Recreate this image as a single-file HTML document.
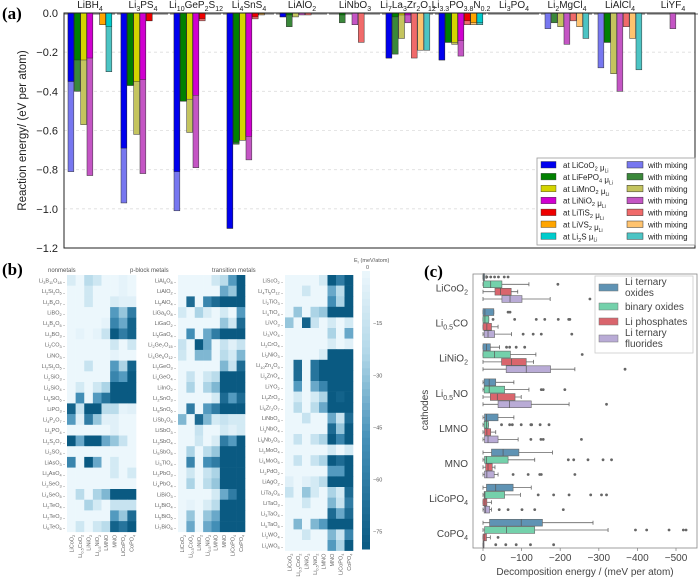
<!DOCTYPE html>
<html><head><meta charset="utf-8">
<style>
html,body{margin:0;padding:0;background:#fff;}
svg{display:block;font-family:"Liberation Sans",sans-serif;}
</style></head>
<body>
<svg id="fig" width="700" height="585" viewBox="0 0 700 585" xmlns="http://www.w3.org/2000/svg">
<text x="2" y="19" font-family="Liberation Serif" font-weight="bold" font-size="17">(a)</text>
<text x="2" y="275" font-family="Liberation Serif" font-weight="bold" font-size="17">(b)</text>
<text x="424" y="277" font-family="Liberation Serif" font-weight="bold" font-size="17">(c)</text>
<g id="pa"></g>
<g id="pb"></g>
<g id="pc"></g>
</svg>
<script>
// ---------- Panel (a) data ----------
const materials = ["LiBH4","Li3PS4","Li10GeP2S12","Li4SnS4","LiAlO2","LiNbO3","Li7La3Zr2O12","Li3.3PO3.8N0.2","Li3PO4","Li2MgCl4","LiAlCl4","LiYF4"];
const potentials = ["LiCoO2","LiFePO4","LiMnO2","LiNiO2","LiTiS2","LiVS2","Li2S"];
const solidValues = [
 [-0.35,-0.24,-0.24,-0.23,0,-0.06,-0.07],
 [-0.69,-0.37,-0.35,-0.34,-0.04,0,0],
 [-0.81,-0.45,-0.44,-0.42,-0.03,0,0],
 [-1.10,-0.66,-0.65,-0.63,-0.02,-0.005,0],
 [-0.02,-0.01,0,0,0,0,0],
 [0,-0.01,0,0,0,0,0],
 [-0.23,-0.02,-0.01,-0.01,0,0,0],
 [-0.24,-0.15,-0.15,-0.14,-0.04,-0.05,-0.05],
 [0,0,0,0,0,0,0],
 [0,0,0,0,0,0,0],
 [0,-0.15,0,0,0,0,0],
 [0,0,0,0,0,0,0]];
const mixingValues = [
 [-0.81,-0.40,-0.57,-0.83,0,-0.06,-0.30],
 [-0.97,-0.37,-0.62,-0.82,-0.04,0,0],
 [-1.01,-0.45,-0.61,-0.79,-0.04,0,0],
 [-1.10,-0.67,-0.65,-0.75,-0.03,-0.01,0],
 [-0.02,-0.07,-0.02,-0.01,-0.01,0,0],
 [0,-0.05,0,-0.06,-0.15,0,0],
 [-0.23,-0.21,-0.13,-0.05,-0.23,-0.19,-0.19],
 [-0.24,-0.15,-0.16,-0.22,-0.06,-0.06,-0.06],
 [0,0,0,0,0,0,0],
 [-0.08,-0.05,-0.07,-0.16,-0.04,-0.07,-0.13],
 [-0.28,-0.15,-0.31,-0.40,-0.07,-0.13,-0.29],
 [0,0,0,-0.08,0,0,0]];
const yTicksA = [0,-0.2,-0.4,-0.6,-0.8,-1.0,-1.2];

// ---------- Panel (b) data ----------
const colLabels = ["LiCoO2","Li0.5CoO2","LiNiO2","Li0.5NiO2","LMNO","MNO","LiCoPO4","CoPO4"];
const rowsNonmetals = ["Li3B11O18","Li2Si2O5","Li2B4O7","LiBO2","Li3B3O5","Li3BO3","Li2CO3","LiNO3","Li2Si2O5","Li2SiO3","Li4SiO4","Li8SiO6","LiPO3","Li4P2O7","Li3PO4","Li2S2O7","Li2SO4","LiAsO3","Li3AsO4","Li2SeO3","Li4SeO5","Li2TeO4","Li2TeO3","Li6TeO6"];
const valsNonmetals = [
 [8,0,20,12,0,0,3,0],[0,0,12,0,0,0,3,0],[0,0,12,0,0,8,5,5],[0,0,0,0,0,45,30,60],
 [0,0,0,0,3,55,40,75],[0,3,0,3,15,80,60,75],[0,0,0,0,0,12,0,12],[0,0,0,0,0,3,0,0],
 [0,0,15,0,0,45,25,75],[0,0,0,0,0,55,45,80],[0,10,0,12,25,80,80,80],[0,50,0,45,65,80,80,80],
 [75,15,80,80,20,20,3,5],[45,5,60,30,5,5,0,0],[0,0,0,0,0,5,0,0],[80,40,80,80,40,30,15,0],
 [0,0,0,0,0,0,0,0],[55,0,80,40,0,10,0,0],[0,0,0,0,0,10,0,10],[0,0,0,0,0,0,0,0],
 [0,20,0,25,35,80,80,80],[0,0,25,10,0,15,15,15],[0,0,0,0,0,45,30,70],[0,12,0,12,20,75,65,80]];
const rowsPblock = ["LiAl5O8","LiAlO2","Li5AlO4","LiGa5O8","LiGaO2","Li5GaO4","Li2Ge7O15","Li4Ge5O12","Li2GeO3","Li4GeO4","LiInO2","Li2SnO3","Li8SnO6","LiSb3O8","LiSbO3","Li3SbO4","Li5SbO5","Li3TlO4","Li2PbO3","Li4PbO4","LiBiO3","Li3BiO4","Li5BiO5","Li7BiO6"];
const valsPblock = [
 [0,0,0,0,12,20,45,80],[0,0,0,0,0,40,30,80],[0,70,0,55,70,80,80,80],[10,0,25,8,0,10,0,45],
 [0,0,0,0,0,30,12,70],[0,50,0,40,60,80,80,80],[15,0,80,40,0,15,5,15],[12,0,35,35,0,20,10,35],
 [0,0,0,0,0,35,15,70],[0,15,0,12,20,80,80,80],[0,25,0,25,35,80,80,80],[0,0,0,0,10,70,45,70],
 [0,60,0,45,60,80,80,80],[35,0,70,35,10,15,10,10],[0,0,15,0,0,10,5,10],[0,0,12,0,8,60,45,80],
 [0,25,0,20,30,80,80,80],[0,55,0,50,60,80,80,80],[0,12,0,15,25,80,80,80],[0,25,0,20,30,80,80,80],
 [0,0,0,0,10,40,60,80],[0,3,0,8,20,80,80,80],[0,30,0,30,40,80,80,80],[0,40,0,40,50,80,80,80]];
const rowsTransition = ["LiScO2","Li4Ti5O12","Li2TiO3","Li4TiO4","LiVO3","Li3VO4","Li2CrO4","Li2NiO3","Li10Zn4O9","Li6ZnO4","LiYO2","Li2ZrO3","Li6Zr2O7","LiNbO3","Li3NbO4","Li8Nb2O9","Li2MoO4","Li4MoO5","Li2PdO2","LiAgO2","LiTa3O8","LiTaO3","Li3TaO4","Li5TaO5","Li2WO4","Li4WO5"];
const valsTransition = [
 [0,0,0,0,10,80,60,80],[0,0,12,0,0,40,20,80],[0,0,0,0,0,50,25,80],[0,30,0,25,30,80,80,80],
 [30,0,75,15,0,10,0,10],[0,0,0,0,0,25,0,40],[0,0,0,0,0,8,0,5],[0,0,0,0,8,80,80,80],
 [0,70,0,65,80,80,80,80],[0,70,0,65,80,80,80,80],[0,45,0,40,55,80,80,80],[0,10,0,10,25,80,75,80],
 [0,20,0,20,40,80,80,80],[0,0,15,0,0,40,15,70],[0,0,0,0,0,70,30,80],[0,15,0,15,25,80,55,80],
 [0,0,0,0,0,10,0,10],[0,15,0,15,25,80,70,80],[0,0,0,0,0,45,45,80],[5,0,5,10,20,80,80,80],
 [15,0,30,10,0,25,10,70],[0,0,12,0,0,35,15,60],[0,0,0,0,0,70,40,70],[0,35,0,35,45,80,80,80],
 [0,0,12,0,0,35,15,55],[0,0,0,0,0,45,25,80]];
const cbTicks = [-15,-30,-45,-60,-75];

// ---------- Panel (c) data ----------
const cathodes = ["LiCoO2","Li0.5CO","LiNiO2","Li0.5NO","LMNO","MNO","LiCoPO4","CoPO4"];
const groups = ["Li ternary oxides","binary oxides","Li phosphates","Li ternary fluorides"];
const boxTernary = [[0,2,4,8],[0,5,28,28],[0,9,19,43],[3,16,33,80],[4,9,39,80],[22,52,93,180],[9,33,78,125],[17,99,154,285]];
const boxBinary  = [[1,20,49,119],[0,5,15,15],[0,30,71,137],[3,16,56,119],[3,9,14,14],[4,9,65,134],[3,5,56,97],[4,61,134,324]];
const boxPhos    = [[31,45,73,90],[0,10,22,39],[48,74,112,131],[19,37,83,99],[4,10,20,33],[7,13,24,31],[0,5,10,22],[0,3,9,19]];
const boxFluor   = [[49,70,101,174],[3,13,30,74],[60,112,175,238],[39,69,125,223],[4,13,39,91],[4,10,29,39],[3,7,17,22],[0,1,2,2]];
const outTernary = [[10,20,30,40,55,65],[65,70],[61,69,86,108],[],[],[],[],[]];
const outBinary  = [[194],[26,82,138,160,195,222,225],[257],[151,156,212],[48,69,76,99,124,126,148,171],[221,235,272,311,333],[143,183,223,279,307,320],[395,424,482,519,526]];
const outPhos    = [[],[],[],[],[],[],[],[39]];
const outFluor   = [[277],[104,130,151,230],[368],[320],[124,150,156,255],[78,117,147,151,238],[42,65,101,134,208],[33,59,86,123,183]];
const xTicksC = [0,100,200,300,400,500];

// ---------- helpers ----------
const NS="http://www.w3.org/2000/svg";
function mk(tag, attrs, parent){const e=document.createElementNS(NS,tag);for(const k in attrs)e.setAttribute(k,attrs[k]);parent.appendChild(e);return e;}
// subscripts via dy so following text returns to baseline
function sub(s,fs){
 const parts=s.split(/(\d+(?:\.\d+)?)/).filter(p=>p!=="");
 const d=(fs||8)*0.3; let out="", down=false;
 parts.forEach(p=>{
  if(/^\d/.test(p)){out+=`<tspan dy="${down?0:d}" font-size="${(fs||8)*0.7}">${p}</tspan>`;down=true;}
  else{out+=`<tspan dy="${down?-d:0}">${p}</tspan>`;down=false;}
 });
 return out;
}

// ---------- Panel (a) ----------
(function(){
 const g=document.getElementById('pa');
 const L=64,R=695,T=13,B=248,vmin=-1.2;
 const yS=v=>T+(v/vmin)*(B-T);
 const gx=i=>68+i*53, bw=6.33;
 const solid=["#0000ee","#008000","#d4d400","#d000d0","#ee0000","#ffa500","#00cccc"];
 const mix=["#7777f0","#3a883a","#c4c45e","#c455c4","#f06a6a","#ffc36e","#4cc4c4"];
 yTicksA.forEach(t=>{
  const y=yS(t);
  if(t!==0&&t!==vmin){const ln=mk('line',{x1:L,x2:R,y1:y,y2:y,stroke:'#ddd','stroke-dasharray':'3,3','stroke-width':0.8},g);
  }
  const tx=mk('text',{x:L-6,y:y+4,'text-anchor':'end','font-size':11,fill:'#222'},g);
  tx.textContent=(t===0?"0.0":t.toFixed(1).replace('-','−'));
  
 });
 materials.forEach((m,i)=>{
  const x0=gx(i);
  const zl=mk('line',{x1:x0-4,x2:x0+47,y1:T+1,y2:T+1,stroke:'#999','stroke-width':1.5},g);
  
  potentials.forEach((p,k)=>{
   const x=x0+k*bw, mv=mixingValues[i][k], sv=solidValues[i][k];
   if(mv<0){const r=mk('rect',{x:x,y:T,width:bw-0.5,height:yS(mv)-T,fill:mix[k],stroke:'#333','stroke-width':0.5},g);
    }
   if(sv<0){const r=mk('rect',{x:x,y:T,width:bw-0.5,height:yS(sv)-T,fill:solid[k],stroke:'#222','stroke-width':0.4},g);
    }
  });
  const lb=mk('text',{x:x0+22,y:8,'text-anchor':'middle','font-size':10,fill:'#222'},g);
  lb.innerHTML=sub(m,10);
  
 });
 const fr=mk('rect',{x:L,y:T,width:R-L,height:B-T,fill:'none',stroke:'#222','stroke-width':1},g);
 
 const yt=mk('text',{x:0,y:0,transform:`translate(26,${(T+B)/2}) rotate(-90)`,'text-anchor':'middle','font-size':11.5,fill:'#222'},g);
 yt.textContent="Reaction energy/ (eV per atom)";
 
 const lg=mk('g',{},g);
 mk('rect',{x:537,y:158,width:158,height:87,fill:'#fff',stroke:'#999','stroke-width':0.8},lg);
 potentials.forEach((n,k)=>{
  const y=160+k*11.9;
  mk('rect',{x:541,y:y+1.5,width:15,height:6.5,fill:solid[k],stroke:'#333','stroke-width':0.4},lg);
  const t1=mk('text',{x:563,y:y+8,'font-size':8,fill:'#222'},lg);
  t1.innerHTML="<tspan>at </tspan>"+sub(n,8)+"<tspan> μ</tspan><tspan dy='2' font-size='5'>Li</tspan>";
  
  mk('rect',{x:627,y:y+1.5,width:16,height:6.5,fill:mix[k],stroke:'#333','stroke-width':0.5},lg);
  const t2=mk('text',{x:648,y:y+8,'font-size':8,fill:'#222'},lg);
  t2.textContent="with mixing";
  
 });
})();

// ---------- Panel (b) ----------
(function(){
 const g=document.getElementById('pb');
 const stops=[[0,[236,247,252]],[0.3,[176,215,232]],[0.6,[70,145,185]],[1,[10,90,130]]];
 function col(v){const t=Math.min(1,Math.max(0,v/80));
  for(let i=1;i<stops.length;i++){if(t<=stops[i][0]){const a=stops[i-1],b=stops[i],f=(t-a[0])/(b[0]-a[0]);
   const c=a[1].map((x,j)=>Math.round(x+(b[1][j]-x)*f));return `rgb(${c[0]},${c[1]},${c[2]})`;}}
  return 'rgb(10,90,130)';}
 const panels=[
  {rows:rowsNonmetals,vals:valsNonmetals,x:67,w:69,rh:10.7,title:"nonmetals",tx:48},
  {rows:rowsPblock,vals:valsPblock,x:178,w:67,rh:10.7,title:"p-block metals",tx:130},
  {rows:rowsTransition,vals:valsTransition,x:285,w:68,rh:10.6,title:"transition metals",tx:212}];
 panels.forEach((p,pi)=>{
  const cw=p.w/colLabels.length, top=275;
  const ttl=mk('text',{x:p.tx,y:272,'font-size':6,fill:'#555'},g);
  ttl.textContent=p.title;
  p.rows.forEach((r,ri)=>{
   p.vals[ri].forEach((v,ci)=>{
    const c=mk('rect',{x:p.x+ci*cw,y:top+ri*p.rh,width:cw+0.3,height:p.rh+0.3,fill:col(v)},g);
    
   });
   const lb=mk('text',{x:p.x-2,y:top+ri*p.rh+p.rh/2+2,'text-anchor':'end','font-size':5.5,fill:'#666'},g);
   lb.innerHTML=sub(r,5.5)+"<tspan> -</tspan>";
   
  });
  const bottom=top+p.rows.length*p.rh;
  colLabels.forEach((c,ci)=>{
   const x=p.x+ci*cw+cw/2+2;
   const t=mk('text',{x:0,y:0,transform:`translate(${x},${bottom+3}) rotate(-90)`,'text-anchor':'end','font-size':5.5,fill:'#666'},g);
   t.innerHTML=sub(c,5.5);
   
  });
 });
 const cbT=271,cbB=549,cbX=362,cbW=8;
 for(let i=0;i<40;i++){const v=i*2;const r=mk('rect',{x:cbX,y:cbT+(v/80)*(cbB-cbT),width:cbW,height:(cbB-cbT)/40+0.5,fill:col(v+1)},g);
  }
 cbTicks.forEach(t=>{const y=cbT+(-t/80)*(cbB-cbT);
  const tx=mk('text',{x:cbX+11,y:y+2,'font-size':5.5,fill:'#555'},g);tx.textContent=String(t).replace('-','−');
  });
 const ct=mk('text',{x:354,y:262,'font-size':5.5,fill:'#555'},g);ct.innerHTML="E<tspan dy='1.5' font-size='4'>r</tspan><tspan dy='-1.5'> (meV/atom)</tspan>";
 
 const c0=mk('text',{x:366,y:269,'font-size':5.5,fill:'#555'},g);c0.textContent="0";
 
})();

// ---------- Panel (c) ----------
(function(){
 const g=document.getElementById('pc');
 const L=473,R=697,T=274,B=548,x0=483,pxPer=0.386;
 const xS=v=>x0+v*pxPer;
 const yC=i=>288+i*35.1;
 const fills=["#5f93b4","#74d1ab","#d9656d","#b9abd6"];
 const boxes=[boxTernary,boxBinary,boxPhos,boxFluor];
 const outs=[outTernary,outBinary,outPhos,outFluor];
 const offs=[-11,-3.7,3.7,11];
 mk('rect',{x:L,y:T,width:R-L,height:B-T,fill:'#fff',stroke:'#888','stroke-width':0.8},g);
 cathodes.forEach((c,i)=>{
  const yc=yC(i);
  const lb=mk('text',{x:L-5,y:yc+3.5,'text-anchor':'end','font-size':10,fill:'#444'},g);
  lb.innerHTML=sub(c,10);
  boxes.forEach((bx,gi)=>{
   const [q1,md,q3,wh]=bx[i]; const y=yc+offs[gi];
   const wl=mk('line',{x1:xS(0),x2:xS(wh),y1:y,y2:y,stroke:'#666','stroke-width':0.8},g);
   
   mk('line',{x1:xS(wh),x2:xS(wh),y1:y-2,y2:y+2,stroke:'#666','stroke-width':0.8},g);
   mk('line',{x1:xS(0),x2:xS(0),y1:y-2,y2:y+2,stroke:'#666','stroke-width':0.8},g);
   const r=mk('rect',{x:xS(q1),y:y-3.4,width:Math.max(1,xS(q3)-xS(q1)),height:6.8,fill:fills[gi],stroke:'#666','stroke-width':0.6},g);
   
   mk('line',{x1:xS(md),x2:xS(md),y1:y-3.4,y2:y+3.4,stroke:'#555','stroke-width':0.7},g);
   outs[gi][i].forEach(o=>{const d=mk('circle',{cx:xS(o),cy:y,r:1.4,fill:'#666'},g);
    });
  });
 });
 xTicksC.forEach(t=>{const x=xS(t);
  mk('line',{x1:x,x2:x,y1:B,y2:B+3,stroke:'#888','stroke-width':0.8},g);
  const tx=mk('text',{x:x,y:B+13,'text-anchor':'middle','font-size':10,fill:'#444'},g);
  tx.textContent=t===0?"0":"−"+t;});
 const xt=mk('text',{x:585,y:575,'text-anchor':'middle','font-size':10,fill:'#444'},g);
 xt.textContent="Decomposition energy / (meV per atom)";
 const yt=mk('text',{x:0,y:0,transform:'translate(428,410) rotate(-90)','text-anchor':'middle','font-size':10,fill:'#444'},g);
 yt.textContent="cathodes";
 const lg=mk('g',{},g);
 mk('rect',{x:595,y:276,width:98,height:77,fill:'#fff',stroke:'#ccc','stroke-width':0.8},lg);
 const ly=[[287,"Li ternary","oxides"],[306,"binary oxides",null],[321,"Li phosphates",null],[338,"Li ternary","fluorides"]];
 ly.forEach((e,gi)=>{
  mk('rect',{x:599,y:e[0]-3,width:19,height:7,fill:fills[gi],stroke:'#777','stroke-width':0.5},lg);
  const t=mk('text',{x:625,y:e[2]?e[0]-2:e[0]+4,'font-size':10,fill:'#444'},lg);t.textContent=e[1];
  
  if(e[2]){const t2=mk('text',{x:625,y:e[0]+9,'font-size':10,fill:'#444'},lg);t2.textContent=e[2];
   }
 });
})();
</script>
</body></html>
